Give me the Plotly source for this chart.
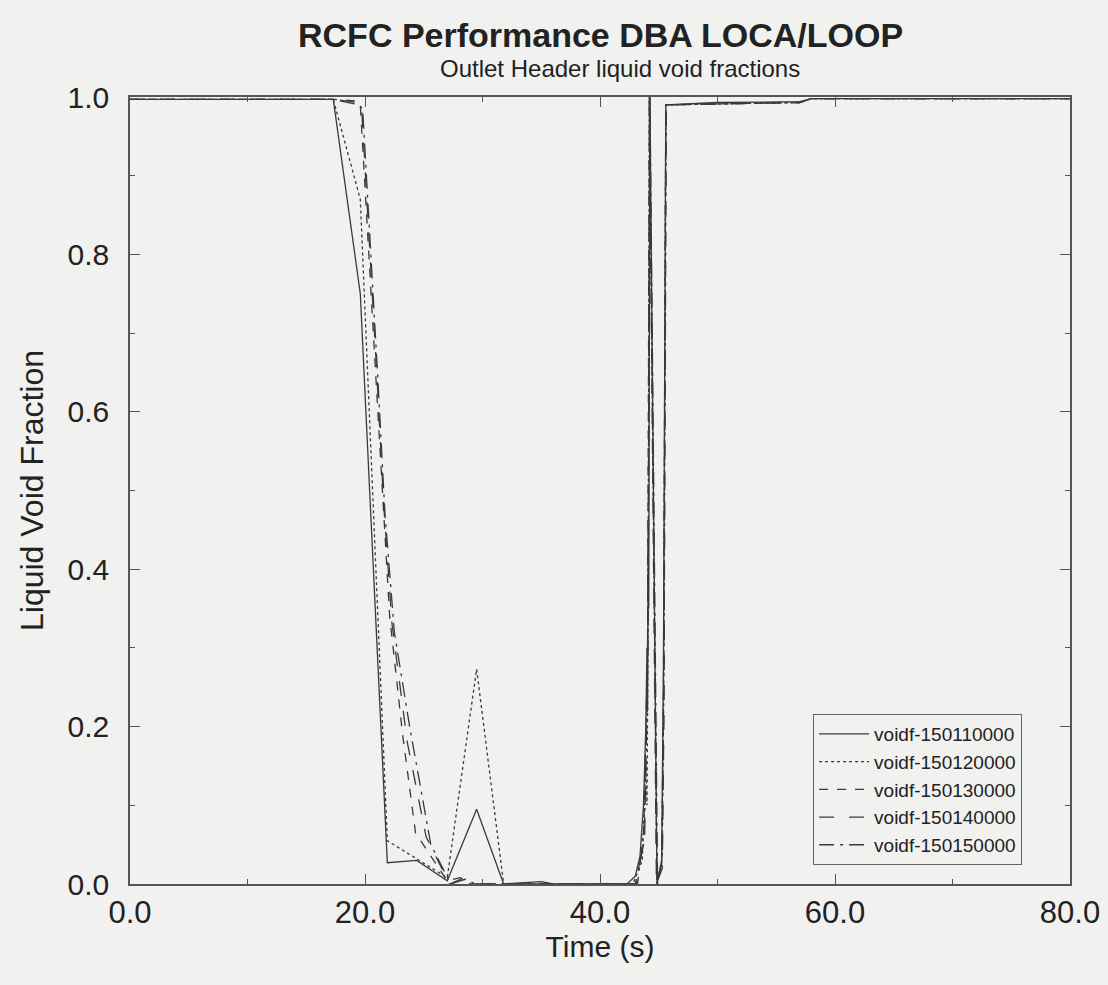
import plotly.graph_objects as go

# ---- data ----
t_110 = [0, 10, 17.3, 19.6, 21.9, 24.4, 27.0, 29.5, 31.8, 35.0, 36.0, 40.0, 42.3, 43.0, 43.4, 43.7,
         43.9, 44.0, 44.05, 44.1, 44.15, 44.25, 44.85, 45.25, 45.4, 45.6, 50.0, 57.0, 58.0, 80.0]
v_110 = [0.997, 0.997, 0.997, 0.75, 0.027, 0.03, 0.004, 0.095, 0.0, 0.003, 0.0, 0.0, 0.0, 0.01, 0.035, 0.1,
         0.2, 0.3, 0.22, 0.45, 0.35, 1.0, 0.0, 0.03, 0.28, 0.99, 0.993, 0.994, 0.998, 0.998]

t_120 = [0, 10, 17.3, 19.6, 21.9, 27.0, 29.5, 31.8, 40.0, 42.8, 43.6, 43.9, 44.0, 44.1, 44.2,
         44.85, 45.25, 45.4, 45.6, 57.0, 58.0, 80.0]
v_120 = [0.997, 0.997, 0.997, 0.87, 0.055, 0.008, 0.273, 0.0, 0.0, 0.0, 0.03, 0.15, 0.1, 0.35, 1.0,
         0.0, 0.03, 0.2, 0.99, 0.993, 0.998, 0.998]

t_130 = [0, 10, 17.3, 19.3, 19.6, 20.9, 21.5, 22.1, 23.2, 24.3, 27.0, 28.1, 29.0, 32.0, 40.0, 43.0,
         43.7, 43.9, 44.05, 44.2, 44.85, 45.25, 45.4, 45.6, 57.0, 58.0, 80.0]
v_130 = [0.997, 0.997, 0.997, 0.995, 0.99, 0.65, 0.49, 0.34, 0.19, 0.065, 0.004, 0.008, 0.0, 0.0, 0.0, 0.0,
         0.05, 0.2, 0.3, 1.0, 0.0, 0.03, 0.25, 0.99, 0.993, 0.998, 0.998]

t_140 = [0, 10, 17.3, 19.4, 19.7, 21.0, 21.6, 22.3, 23.6, 25.2, 26.2, 27.2, 28.3, 29.2, 32.0, 40.0,
         43.1, 43.8, 43.95, 44.1, 44.2, 44.8, 45.3, 45.45, 45.6, 57.0, 58.0, 80.0]
v_140 = [0.997, 0.997, 0.997, 0.993, 0.99, 0.65, 0.48, 0.33, 0.18, 0.06, 0.03, 0.0, 0.007, 0.0, 0.0, 0.0,
         0.0, 0.06, 0.18, 0.32, 1.0, 0.0, 0.02, 0.22, 0.99, 0.993, 0.998, 0.998]

t_150 = [0, 10, 17.3, 19.5, 19.8, 21.1, 21.7, 22.5, 23.8, 25.6, 27.3, 28.5, 29.4, 32.0, 40.0,
         43.2, 43.8, 44.0, 44.1, 44.25, 44.9, 45.3, 45.45, 45.65, 57.0, 58.0, 80.0]
v_150 = [0.997, 0.997, 0.997, 0.99, 0.985, 0.64, 0.47, 0.32, 0.2, 0.05, 0.0, 0.006, 0.0, 0.0, 0.0,
         0.0, 0.08, 0.22, 0.4, 1.0, 0.0, 0.03, 0.3, 0.99, 0.993, 0.998, 0.998]

series_names = ["voidf-150110000", "voidf-150120000", "voidf-150130000",
                "voidf-150140000", "voidf-150150000"]
series_t = [t_110, t_120, t_130, t_140, t_150]
series_v = [v_110, v_120, v_130, v_140, v_150]
dash_styles = ["solid", "dot", "dash", "longdash", "longdashdot"]

title_text = "RCFC Performance DBA LOCA/LOOP"
subtitle_text = "Outlet Header liquid void fractions"
x_title = "Time (s)"
y_title = "Liquid Void Fraction"

# ---- figure ----
BG = "#f1f1ef"
INK = "#3a3a3a"
TXT = "#222222"
FONT = "Liberation Sans, Arial, Helvetica, sans-serif"

fig = go.Figure()
for name, t, v, d in zip(series_names, series_t, series_v, dash_styles):
    fig.add_trace(go.Scatter(x=t, y=v, mode="lines", name=name,
                             line=dict(color=INK, width=1.3, dash=d)))

axis_common = dict(
    showline=True, linecolor="#555555", linewidth=1.5, mirror="ticks",
    ticks="inside", ticklen=10, tickwidth=1.2, tickcolor="#555555",
    showgrid=False, zeroline=False, tickformat=".1f", automargin=False,
)

fig.update_layout(
    width=1108, height=985,
    margin=dict(l=130, r=38, t=97, b=101),
    paper_bgcolor=BG, plot_bgcolor=BG,
    font=dict(family=FONT, color=TXT),
    showlegend=True,
    legend=dict(x=0.949, y=0.024, xanchor="right", yanchor="bottom",
                bgcolor=BG, bordercolor="#666666", borderwidth=1,
                font=dict(family=FONT, size=19, color=TXT),
                itemwidth=50, tracegroupgap=0),
    annotations=[
        dict(text="<b>" + title_text + "</b>", xref="paper", yref="paper",
             x=0.5, y=1.0, yshift=62, showarrow=False, xanchor="center", yanchor="middle",
             font=dict(family=FONT, size=34, color=TXT)),
        dict(text=subtitle_text, xref="paper", yref="paper",
             x=0.5, y=1.0, xshift=20, yshift=29, showarrow=False, xanchor="center", yanchor="middle",
             font=dict(family=FONT, size=24, color=TXT)),
    ],
)

fig.update_xaxes(range=[0, 80], tickvals=[0, 20, 40, 60, 80], ticklabelstandoff=0,
                 tickfont=dict(family=FONT, size=31, color=TXT),
                 minor=dict(ticks="inside", ticklen=5, tickvals=[10, 30, 50, 70], tickcolor="#555555"),
                 title=dict(text=x_title, font=dict(family=FONT, size=30, color=TXT), standoff=0),
                 **axis_common)
fig.update_yaxes(range=[0, 1], tickvals=[0, 0.2, 0.4, 0.6, 0.8, 1.0], ticklabelstandoff=13,
                 tickfont=dict(family=FONT, size=30, color=TXT),
                 minor=dict(ticks="inside", ticklen=5, tickvals=[0.1, 0.3, 0.5, 0.7, 0.9], tickcolor="#555555"),
                 title=dict(text=y_title, font=dict(family=FONT, size=32, color=TXT), standoff=14),
                 **axis_common)

fig.write_html("out.html")
